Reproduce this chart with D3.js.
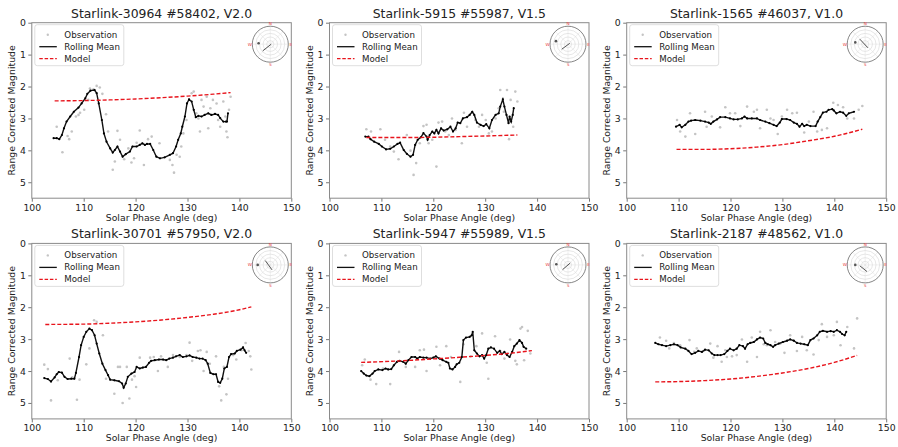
<!DOCTYPE html>
<html>
<head>
<meta charset="utf-8">
<script src="https://cdn.jsdelivr.net/npm/d3@7"></script>
<style>
  body { margin: 0; background: #fff; }
  svg text { font-family: "DejaVu Sans", sans-serif; fill: #222; }
</style>
</head>
<body>
<div id="chart"></div>
<script>
// ---- data (deg, magnitude) ----
const titles = [
  "Starlink-30964 #58402, V2.0", "Starlink-5915 #55987, V1.5", "Starlink-1565 #46037, V1.0",
  "Starlink-30701 #57950, V2.0", "Starlink-5947 #55989, V1.5", "Starlink-2187 #48562, V1.0"
];
const xTicks = [100, 110, 120, 130, 140, 150];
const yTicks = [0, 1, 2, 3, 4, 5];
const legendLabels = ["Observation", "Rolling Mean", "Model"];

const obs1 = [[104.8,3.26],[105.9,4.06],[106.9,3.55],[107.2,3.65],[107.7,3.41],[108.5,2.94],[109.0,2.89],[109.3,2.82],[110.1,2.73],[110.9,2.42],[111.2,2.06],[111.9,2.09],[112.5,1.98],[113.1,2.03],[113.6,2.23],[114.3,2.87],[114.7,3.41],[115.6,4.61],[116.0,4.35],[116.5,3.39],[117.0,3.67],[117.8,4.28],[118.6,3.94],[119.2,4.38],[119.7,4.25],[120.2,3.76],[120.8,3.38],[121.6,4.46],[122.4,3.65],[123.1,3.57],[124.6,3.78],[126.6,4.30],[127.1,4.46],[127.4,4.70],[127.9,4.14],[128.5,4.2],[128.8,3.88],[129.2,3.47],[129.8,3.05],[130.8,2.21],[131.2,2.16],[131.7,2.84],[132.1,3.0],[132.4,3.41],[132.7,2.42],[133.1,2.63],[133.7,2.32],[134.0,3.31],[134.4,2.68],[134.9,2.42],[135.6,2.53],[135.9,3.05],[136.3,3.26],[136.9,2.47],[137.3,2.94],[137.5,3.41],[137.7,3.59],[138.0,2.73],[138.3,2.32]];
const mean1 = [[104.2,3.62],[104.8,3.62],[105.3,3.65],[105.8,3.52],[106.2,3.31],[106.7,3.1],[107.4,2.94],[108.1,2.79],[109.0,2.66],[109.6,2.53],[110.3,2.37],[110.7,2.23],[111.3,2.13],[112.1,2.11],[112.5,2.21],[112.9,2.53],[113.5,3.05],[113.9,3.47],[114.4,3.73],[115.1,3.94],[115.6,4.07],[116.0,3.99],[116.5,3.88],[117.0,4.04],[117.5,4.2],[118.1,4.12],[118.9,4.04],[119.4,3.88],[120.2,3.88],[120.8,3.83],[121.3,3.78],[121.8,3.83],[122.2,3.8],[122.8,3.8],[123.4,3.99],[124.0,4.2],[124.7,4.25],[125.6,4.22],[126.6,4.14],[127.2,4.09],[127.8,3.88],[128.2,3.67],[128.7,3.47],[129.0,3.26],[129.5,2.94],[129.9,2.53],[130.3,2.4],[130.8,2.47],[131.2,2.73],[131.6,2.96],[132.1,2.92],[132.7,2.94],[133.3,2.89],[134.0,2.84],[134.6,2.89],[135.3,2.86],[135.9,2.89],[136.3,2.99],[136.9,3.1],[137.4,3.1],[137.6,3.1],[137.8,2.84]];
const model1 = [[104.4,2.45],[110,2.44],[115,2.42],[120,2.39],[125,2.35],[130,2.30],[135,2.24],[138.3,2.19]];

const obs2 = [[107.1,3.34],[108.0,3.41],[109.8,3.34],[110.7,3.67],[111.7,3.88],[112.4,4.04],[113.3,4.28],[114.9,3.52],[115.6,4.01],[116.2,4.77],[116.7,4.4],[117.4,3.78],[118.1,3.24],[118.7,3.2],[119.1,3.78],[119.8,3.67],[120.6,4.51],[121.0,3.13],[121.7,3.1],[122.3,3.41],[123.0,3.52],[123.6,3.0],[124.3,3.36],[125.5,3.78],[125.9,2.82],[126.5,3.26],[127.5,2.82],[128.1,3.05],[128.8,3.26],[129.4,2.89],[130.1,3.05],[130.7,3.47],[131.3,3.41],[132.0,3.0],[132.6,2.68],[132.9,2.11],[133.6,2.79],[134.2,2.11],[134.6,3.65],[134.9,2.42],[135.4,3.26],[135.8,2.16],[136.2,2.47]];
const mean2 = [[106.9,3.57],[107.5,3.57],[107.9,3.65],[108.6,3.73],[109.5,3.8],[110.1,3.88],[110.9,3.97],[111.7,3.95],[112.4,3.88],[113.1,3.8],[113.6,3.76],[114.3,3.99],[114.9,4.11],[115.6,4.2],[116.1,4.14],[116.5,3.83],[117.0,3.67],[117.6,3.59],[118.1,3.46],[118.7,3.57],[118.9,3.67],[119.3,3.52],[119.8,3.41],[120.2,3.47],[120.6,3.36],[121.0,3.47],[121.5,3.31],[122.0,3.38],[122.7,3.34],[123.3,3.26],[123.8,3.41],[124.3,3.31],[124.7,3.13],[125.2,3.15],[125.7,3.0],[126.5,2.96],[127.0,2.89],[127.5,2.79],[127.9,2.89],[128.4,3.13],[129.1,3.2],[129.7,3.24],[130.2,3.18],[130.8,3.31],[131.3,3.05],[132.0,2.89],[132.6,2.84],[132.9,2.63],[133.4,2.4],[133.7,2.63],[134.1,2.89],[134.5,3.15],[134.7,2.94],[135.0,3.1],[135.3,2.89],[135.5,2.68]];
const model2 = [[107.1,3.60],[115,3.60],[120,3.59],[125,3.57],[130,3.55],[136.2,3.52]];

const obs3 = [[109.7,3.05],[110.3,3.41],[111.3,3.57],[112.2,2.84],[113.2,3.49],[115.1,2.79],[115.4,3.26],[116.4,2.94],[118.0,3.28],[119.0,2.65],[119.9,2.84],[120.9,2.84],[121.9,3.24],[123.2,2.63],[124.5,2.79],[125.1,2.73],[125.7,3.31],[127.0,2.73],[127.7,3.0],[128.3,3.05],[129.1,3.49],[129.9,2.94],[130.9,2.73],[131.9,2.84],[132.8,2.82],[134.2,3.44],[135.1,3.1],[136.0,2.79],[136.7,3.41],[137.6,3.36],[138.6,3.31],[139.8,2.51],[140.7,2.58],[141.7,2.65],[142.5,3.0],[143.8,3.0],[144.7,2.73],[145.4,2.61]];
const mean3 = [[109.5,3.26],[110.2,3.2],[110.6,3.28],[111.3,3.2],[111.9,3.1],[112.4,3.07],[113.2,3.05],[114.2,3.07],[115.1,3.1],[115.8,3.13],[116.2,3.17],[116.7,3.1],[117.4,3.03],[118.0,2.96],[119.0,2.96],[119.9,3.0],[120.6,3.03],[121.4,3.03],[122.2,3.0],[122.7,2.94],[123.2,3.0],[124.1,3.0],[125.1,3.0],[125.7,3.05],[126.7,3.1],[127.5,3.15],[128.3,3.2],[128.9,3.24],[129.5,3.13],[129.9,3.02],[130.8,3.02],[131.5,3.05],[132.2,3.13],[132.8,3.17],[133.3,3.26],[133.8,3.17],[134.2,3.24],[134.7,3.2],[135.4,3.24],[136.4,3.24],[136.8,3.1],[137.3,2.96],[137.8,2.82],[138.5,2.79],[138.9,2.73],[139.6,2.71],[139.9,2.75],[140.4,2.84],[141.1,2.79],[141.7,2.82],[142.3,2.92],[142.8,2.84],[143.8,2.79]];
const model3 = [[109.6,3.97],[115,3.97],[120,3.95],[125,3.90],[130,3.82],[135,3.70],[140,3.56],[145.4,3.34]];

const obs4 = [[102.4,3.8],[103.1,3.94],[103.7,4.92],[105.0,4.29],[107.3,3.61],[107.8,4.2],[108.7,4.9],[109.2,4.27],[110.5,3.79],[111.1,3.29],[112.0,2.41],[112.5,2.46],[113.7,2.88],[114.3,4.24],[115.9,4.71],[116.6,3.87],[117.0,3.87],[117.5,5.0],[118.3,3.87],[118.8,4.86],[119.3,4.27],[119.8,4.16],[120.1,4.5],[120.8,3.58],[122.8,3.58],[123.5,3.56],[124.3,4.0],[124.9,3.54],[126.2,3.87],[127.2,3.5],[128.5,3.56],[129.8,3.5],[130.4,3.11],[130.9,3.68],[132.0,3.37],[132.5,3.35],[133.1,4.0],[133.7,3.4],[134.3,3.77],[135.5,3.54],[136.1,4.48],[136.5,4.92],[137.0,3.87],[137.5,4.73],[137.8,4.24],[138.8,3.5],[139.4,3.64],[140.4,3.35],[141.2,3.12],[141.8,3.37],[142.1,3.54],[142.3,3.95]];
const mean4 = [[102.4,4.22],[103.1,4.25],[103.7,4.33],[104.4,4.2],[104.8,4.1],[105.2,4.03],[105.8,4.05],[106.3,4.18],[106.9,4.25],[107.6,4.24],[108.2,4.24],[108.5,4.06],[109.1,3.56],[109.5,3.19],[110.0,2.93],[110.5,2.77],[111.1,2.67],[111.6,2.72],[112.1,2.88],[112.5,3.14],[113.0,3.45],[113.6,3.77],[114.2,3.97],[114.7,4.13],[115.1,4.27],[115.9,4.29],[116.8,4.32],[117.4,4.39],[117.7,4.52],[118.1,4.39],[118.5,4.18],[119.2,4.08],[119.8,4.03],[120.2,3.87],[120.8,3.92],[121.4,3.89],[122.0,3.87],[122.6,3.74],[123.0,3.68],[123.7,3.66],[124.5,3.64],[125.3,3.64],[125.9,3.66],[126.5,3.61],[127.2,3.58],[127.8,3.54],[128.5,3.5],[129.1,3.56],[129.8,3.54],[130.4,3.51],[131.0,3.56],[131.7,3.58],[132.3,3.61],[132.9,3.61],[133.5,3.66],[133.9,3.77],[134.4,4.06],[135.0,4.1],[135.5,4.1],[135.9,4.34],[136.3,4.37],[136.7,4.24],[137.1,3.92],[137.6,3.87],[138.0,3.56],[138.4,3.47],[139.1,3.45],[139.5,3.37],[140.2,3.33],[140.7,3.26],[141.0,3.35],[141.3,3.43]];
const model4 = [[102.6,2.54],[110,2.53],[115,2.50],[120,2.46],[125,2.40],[130,2.32],[135,2.22],[140,2.08],[142.3,1.99]];

const obs5 = [[106.3,3.82],[106.8,3.64],[107.9,4.27],[109.0,4.41],[110.3,3.92],[111.7,4.41],[113.4,3.4],[114.7,3.87],[116.5,3.87],[117.4,3.35],[118.2,3.33],[118.7,4.0],[120.6,3.24],[121.3,3.82],[122.5,3.22],[123.4,3.56],[125.2,4.34],[125.8,3.16],[127.2,3.54],[128.3,3.22],[129.4,2.82],[130.3,3.74],[130.6,4.24],[131.9,2.91],[132.9,3.37],[133.7,3.61],[134.3,3.45],[134.8,3.01],[135.8,3.68],[136.1,3.79],[136.8,2.67],[137.1,2.62],[137.5,3.66],[138.2,2.74],[138.7,3.45]];
const mean5 = [[106.1,4.0],[106.6,4.08],[107.1,4.14],[107.7,4.16],[108.3,4.08],[108.7,4.0],[109.4,3.95],[110.2,3.97],[110.8,3.92],[111.3,3.95],[111.9,3.94],[112.4,3.82],[113.0,3.71],[113.5,3.68],[114.2,3.71],[114.7,3.77],[115.2,3.66],[115.8,3.56],[116.5,3.56],[116.9,3.61],[117.4,3.56],[118.1,3.58],[118.7,3.58],[119.4,3.61],[120.0,3.58],[120.5,3.54],[121.2,3.61],[121.8,3.66],[122.5,3.71],[122.9,3.74],[123.2,3.92],[123.7,3.95],[124.2,3.87],[124.5,3.79],[125.0,3.74],[125.5,3.56],[125.8,3.03],[126.3,2.95],[127.0,2.93],[127.4,2.88],[127.6,2.77],[127.9,3.35],[128.4,3.45],[128.9,3.54],[129.4,3.5],[129.8,3.61],[130.2,3.5],[130.6,3.3],[131.1,3.26],[131.7,3.3],[132.3,3.43],[132.8,3.37],[133.2,3.47],[133.7,3.4],[134.2,3.5],[134.7,3.56],[135.2,3.4],[135.6,3.22],[136.1,3.14],[136.6,3.03],[137.1,3.12],[137.4,3.24],[137.9,3.3]];
const model5 = [[106.1,3.73],[115,3.67],[120,3.62],[125,3.57],[130,3.51],[135,3.44],[139,3.36]];

const obs6 = [[106.4,2.95],[107.6,3.05],[108.2,3.29],[109.1,3.12],[110.3,3.19],[112.1,3.03],[113.0,3.4],[113.5,3.29],[114.8,3.37],[116.1,3.14],[116.7,3.58],[117.5,3.22],[118.3,3.71],[119.0,3.35],[119.3,3.56],[120.3,3.54],[121.2,3.5],[122.2,3.01],[123.2,3.71],[124.1,2.95],[125.1,3.56],[125.7,2.77],[126.4,3.16],[127.0,3.19],[127.7,2.72],[128.6,3.09],[129.6,3.14],[130.4,3.43],[131.5,2.88],[132.8,3.37],[133.8,2.93],[134.7,3.35],[136.0,3.48],[137.0,3.03],[137.6,2.53],[138.6,2.93],[139.9,2.88],[140.5,2.46],[141.2,3.19],[142.5,2.62],[143.8,3.29],[144.4,2.35]];
const mean6 = [[105.5,3.12],[106.1,3.16],[106.8,3.19],[107.6,3.22],[108.4,3.19],[109.1,3.16],[109.8,3.19],[110.4,3.26],[111.3,3.3],[111.9,3.37],[112.5,3.47],[113.2,3.43],[113.8,3.37],[114.5,3.4],[115.1,3.33],[115.8,3.35],[116.4,3.45],[116.9,3.5],[117.5,3.5],[118.1,3.5],[118.8,3.47],[119.4,3.37],[119.9,3.3],[120.6,3.35],[121.2,3.3],[121.7,3.19],[122.4,3.22],[122.8,3.3],[123.3,3.16],[123.8,3.12],[124.5,3.09],[125.1,3.01],[125.7,2.95],[126.3,2.98],[126.7,3.12],[127.2,3.16],[127.7,3.19],[128.2,3.24],[128.6,3.19],[129.3,3.14],[130.1,3.09],[130.9,3.05],[131.5,3.01],[132.2,3.05],[132.8,3.12],[133.5,3.14],[134.2,3.16],[134.9,3.19],[135.4,3.03],[136.0,2.98],[136.7,2.88],[137.2,2.77],[137.8,2.74],[138.6,2.77],[139.3,2.75],[139.9,2.77],[140.5,2.72],[141.1,2.77],[141.5,2.84],[142.0,2.88],[142.3,2.77]];
const model6 = [[105.5,4.34],[110,4.33],[115,4.30],[120,4.25],[125,4.17],[130,4.06],[135,3.92],[140,3.73],[144.4,3.51]];

// sky-plot inset: sun marker and pass track, in units of the inset radius
const insetSun = [[-0.65,-0.05],[-0.67,-0.17],[-0.55,-0.1],[-0.7,0],[-0.65,-0.04],[-0.55,0]];
const insetTrack = [
  [[0.05,0],[-0.42,0.37]], [[0.1,-0.05],[-0.35,0.28]], [[-0.3,-0.28],[0.15,0.2]],
  [[-0.28,-0.24],[0.1,0.28]], [[-0.3,0.26],[0.12,-0.1]], [[-0.3,0.05],[0.1,0.37]]
];

const observations = [obs1, obs2, obs3, obs4, obs5, obs6];
const rollingMeans = [mean1, mean2, mean3, mean4, mean5, mean6];
const models = [model1, model2, model3, model4, model5, model6];

// ---- layout ----
const W = 898, H = 447;
const colLeft = [31.8, 329.5, 626.7];
const rowTop = [22.7, 243.4];
const pw = 259.5, ph = 175.5;

const svg = d3.select("#chart").append("svg")
    .attr("width", W)
    .attr("height", H);

const x = d3.scaleLinear().domain([100, 150]).range([0, pw]);
const y = d3.scaleLinear().domain([0, 5.5]).range([0, ph]);

titles.forEach((title, i) => {
  let left = colLeft[i % 3], top = rowTop[Math.floor(i / 3)];
  let g = svg.append("g").attr("transform", `translate(${left},${top})`);

  // title
  g.append("text")
      .attr("x", pw / 2)
      .attr("y", -5)
      .attr("text-anchor", "middle")
      .attr("font-size", "12.4px")
      .text(title);

  // axes
  let xAxis = g.append("g")
      .attr("transform", `translate(0,${ph})`)
      .call(d3.axisBottom(x).tickValues(xTicks).tickFormat(d3.format("d")).tickSize(3.5).tickPadding(2.5));
  let yAxis = g.append("g")
      .call(d3.axisLeft(y).tickValues(yTicks).tickFormat(d3.format("d")).tickSize(3.5).tickPadding(2.5));
  [xAxis, yAxis].forEach(a => {
    a.selectAll("text").attr("font-size", "9.3px").attr("font-family", "DejaVu Sans").attr("fill", "#1a1a1a");
    a.selectAll("line").attr("stroke", "#555").attr("stroke-width", 0.8);
    a.select(".domain").remove();
  });

  // frame
  g.append("rect")
      .attr("width", pw).attr("height", ph)
      .attr("fill", "none")
      .attr("stroke", "#8a8a8a")
      .attr("stroke-width", 1);

  // axis labels
  g.append("text")
      .attr("x", pw / 2)
      .attr("y", ph + 22.5)
      .attr("text-anchor", "middle")
      .attr("font-size", "9.3px")
      .text("Solar Phase Angle (deg)");
  g.append("text")
      .attr("transform", `translate(-16.8,${ph / 2}) rotate(-90)`)
      .attr("text-anchor", "middle")
      .attr("font-size", "9.3px")
      .text("Range Corrected Magnitude");

  // observations
  g.selectAll(".obs").data(observations[i]).enter().append("circle")
      .attr("class", "obs")
      .attr("cx", d => x(d[0]))
      .attr("cy", d => y(d[1]))
      .attr("r", 1.3)
      .attr("fill", "#c4c4c4");

  // rolling mean
  let line = d3.line().x(d => x(d[0])).y(d => y(d[1]));
  g.append("path")
      .datum(rollingMeans[i])
      .attr("d", line)
      .attr("fill", "none")
      .attr("stroke", "#111")
      .attr("stroke-width", 1.4);
  g.selectAll(".rm").data(rollingMeans[i]).enter().append("circle")
      .attr("class", "rm")
      .attr("cx", d => x(d[0]))
      .attr("cy", d => y(d[1]))
      .attr("r", 1.1)
      .attr("fill", "#000");

  // model
  g.append("path")
      .datum(models[i])
      .attr("d", d3.line().curve(d3.curveMonotoneX).x(d => x(d[0])).y(d => y(d[1])))
      .attr("fill", "none")
      .attr("stroke", "#e8141c")
      .attr("stroke-width", 1.4)
      .attr("stroke-dasharray", "4,2");

  // legend
  let lg = g.append("g").attr("transform", "translate(3,2)");
  lg.append("rect")
      .attr("width", 89).attr("height", 41)
      .attr("rx", 2.5)
      .attr("fill", "#fff").attr("fill-opacity", 0.8)
      .attr("stroke", "#d6d6d6").attr("stroke-width", 0.8);
  legendLabels.forEach((lab, k) => {
    let ly = 10 + k * 12;
    if (k === 0) {
      lg.append("circle").attr("cx", 13).attr("cy", ly).attr("r", 1.2).attr("fill", "#c4c4c4");
    } else {
      lg.append("line")
          .attr("x1", 4.5).attr("x2", 22).attr("y1", ly).attr("y2", ly)
          .attr("stroke", k === 1 ? "#111" : "#e8141c")
          .attr("stroke-width", 1.3)
          .attr("stroke-dasharray", k === 2 ? "3.5,1.8" : null);
    }
    lg.append("text")
        .attr("x", 29.5)
        .attr("y", ly + 3.1)
        .attr("font-size", "8.7px")
        .text(lab);
  });

  // sky-plot inset
  let r = 18;
  let sky = g.append("g").attr("transform", `translate(${pw - 21},21.5)`);
  sky.append("circle").attr("r", r).attr("fill", "#fff");
  [0.2, 0.4, 0.6, 0.8].forEach(f => {
    sky.append("circle").attr("r", r * f).attr("fill", "none").attr("stroke", "#cfcfcf").attr("stroke-width", 0.5);
  });
  d3.range(0, 360, 45).forEach(a => {
    let rad = a * Math.PI / 180;
    sky.append("line")
        .attr("x1", 0).attr("y1", 0)
        .attr("x2", r * Math.cos(rad)).attr("y2", r * Math.sin(rad))
        .attr("stroke", "#d8d8d8").attr("stroke-width", 0.4);
  });
  sky.append("circle").attr("r", r).attr("fill", "none").attr("stroke", "#666").attr("stroke-width", 0.8);
  [["N", 0, -r - 2.5], ["E", r + 2.5, 0], ["S", 0, r + 2.5], ["W", -r - 2.5, 0]].forEach(c => {
    sky.append("text")
        .attr("x", c[1]).attr("y", c[2] + 1.5)
        .attr("text-anchor", "middle")
        .attr("font-size", "4.2px")
        .style("fill", "#e84040")
        .text(c[0]);
  });
  let tr = insetTrack[i];
  sky.append("line")
      .attr("x1", tr[0][0] * r).attr("y1", tr[0][1] * r)
      .attr("x2", tr[1][0] * r).attr("y2", tr[1][1] * r)
      .attr("stroke", "#555").attr("stroke-width", 1);
  sky.append("circle")
      .attr("cx", insetSun[i][0] * r).attr("cy", insetSun[i][1] * r)
      .attr("r", 1.3).attr("fill", "#555");
});
</script>
</body>
</html>
